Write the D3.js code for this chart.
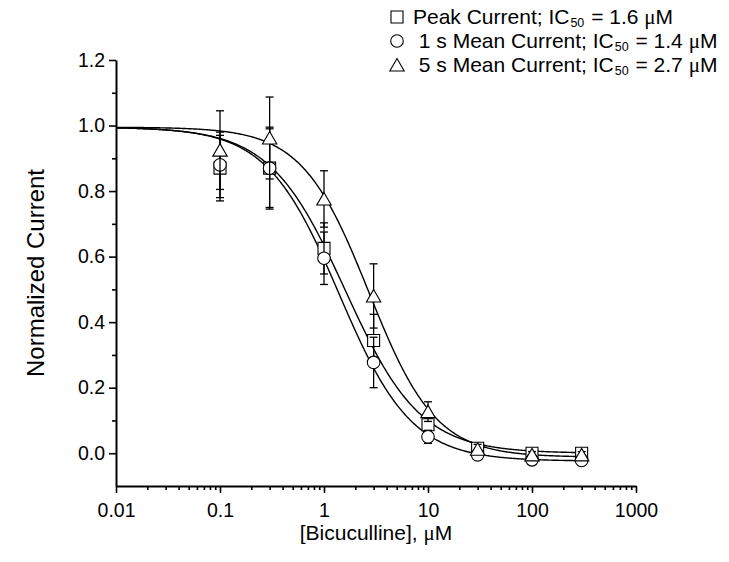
<!DOCTYPE html>
<html>
<head>
<meta charset="utf-8">
<script src="https://cdn.jsdelivr.net/npm/d3@7"></script>
<style>
  body { margin: 0; background: #fff; }
  svg { display: block; }
  text { font-family: "Liberation Sans", Arial, sans-serif; fill: #000; }
</style>
</head>
<body>
<svg id="chart" width="729" height="562"></svg>
<script>
// ---- data ----
const concentrations = [0.1, 0.3, 1, 3, 10, 30, 100, 300];

const peakMean  = [0.87, 0.87, 0.625, 0.344, 0.087, 0.015, 0.0, 0.0];
const peakErr   = [0.10, 0.125, 0.078, 0.08, 0.02, 0.012, 0.01, 0.01];

const oneSMean  = [0.88, 0.87, 0.595, 0.277, 0.05, -0.005, -0.02, -0.022];
const oneSErr   = [0.10, 0.12, 0.08, 0.077, 0.02, 0.012, 0.01, 0.01];

const fiveSMean = [0.925, 0.962, 0.776, 0.48, 0.127, 0.012, -0.005, -0.005];
const fiveSErr  = [0.12, 0.125, 0.086, 0.098, 0.03, 0.015, 0.01, 0.01];

// Hill-fit parameters per series (peak, 1 s, 5 s)
const fitTop    = [0.995, 0.995, 0.995];
const fitBottom = [0.0, -0.024, -0.012];
const fitIC50   = [1.6, 1.4, 2.7];
const fitHill   = [1.2, 1.25, 1.35];

const seriesNames = ["Peak Current; IC", " 1 s Mean Current; IC", " 5 s Mean Current; IC"];
const ic50Labels  = ["1.6", "1.4", "2.7"];
const seriesShapes = ["square", "circle", "triangle"];

const xTickValues = [0.01, 0.1, 1, 10, 100, 1000];
const xTickLabels = ["0.01", "0.1", "1", "10", "100", "1000"];
const yTickValues = [0.0, 0.2, 0.4, 0.6, 0.8, 1.0, 1.2];

// ---- layout ----
const svg = d3.select("#chart");
const pLeft = 116, pRight = 636, pTop = 60, pBottom = 486;

const x = d3.scaleLog().domain([0.01, 1000]).range([pLeft, pRight]);
const y = d3.scaleLinear().domain([-0.1, 1.2]).range([pBottom, pTop]);

// minor ticks
const xMinor = [];
for (let p = -2; p < 3; p++) for (let k = 2; k <= 9; k++) xMinor.push(k * Math.pow(10, p));
const yMinor = [0.1, 0.3, 0.5, 0.7, 0.9, 1.1];

function styleAxis(g) {
  g.select(".domain").attr("stroke", "#000").attr("stroke-width", 2);
  g.selectAll(".tick line").attr("stroke", "#000").attr("stroke-width", 1.6);
}

// x axis
svg.append("g").attr("transform", `translate(0,${pBottom})`)
  .call(d3.axisBottom(x).tickValues(xMinor).tickSize(4).tickFormat("").tickSizeOuter(0))
  .call(styleAxis).select(".domain").remove();
const gx = svg.append("g").attr("transform", `translate(0,${pBottom})`)
  .call(d3.axisBottom(x).tickValues(xTickValues).tickSize(7).tickSizeOuter(0)
    .tickFormat((d, i) => xTickLabels[i]))
  .call(styleAxis);
gx.selectAll(".tick text").attr("font-size", 19.5).attr("dy", "1.1em").attr("font-family", "Liberation Sans, Arial, sans-serif");

// y axis
svg.append("g").attr("transform", `translate(${pLeft},0)`)
  .call(d3.axisLeft(y).tickValues(yMinor).tickSize(4).tickFormat("").tickSizeOuter(0))
  .call(styleAxis).select(".domain").remove();
const gy = svg.append("g").attr("transform", `translate(${pLeft},0)`)
  .call(d3.axisLeft(y).tickValues(yTickValues).tickSize(7).tickSizeOuter(0)
    .tickFormat(d3.format(".1f")))
  .call(styleAxis);
gy.selectAll(".tick text").attr("font-size", 19.5).attr("x", -11).attr("font-family", "Liberation Sans, Arial, sans-serif");

// axis titles
svg.append("text")
  .attr("transform", `translate(44,${(pTop + pBottom) / 2}) rotate(-90)`)
  .attr("text-anchor", "middle").attr("font-size", 24)
  .text("Normalized Current");

const xt = svg.append("text")
  .attr("x", x(1) + 52).attr("y", 540)
  .attr("text-anchor", "middle").attr("font-size", 21);
xt.append("tspan").text("[Bicuculline], ");
xt.append("tspan").attr("font-family", "Liberation Serif, serif").text("μ");
xt.append("tspan").text("M");

// ---- fit curves ----
const curveXs = d3.range(-2, Math.log10(300) + 1e-9, 0.01).map(e => Math.pow(10, e));
const line = d3.line().x(d => x(d[0])).y(d => y(d[1]));
for (let s = 0; s < 3; s++) {
  const pts = curveXs.map(c => [c, fitBottom[s] + (fitTop[s] - fitBottom[s]) / (1 + Math.pow(c / fitIC50[s], fitHill[s]))]);
  svg.append("path").attr("d", line(pts))
    .attr("fill", "none").attr("stroke", "#000").attr("stroke-width", 1.4);
}

// ---- markers ----
function shapePath(shape) {
  if (shape === "square") return "M-6,-6H6V6H-6Z";
  if (shape === "circle") return "M6.3,0A6.3,6.3 0 1,1 -6.3,0A6.3,6.3 0 1,1 6.3,0Z";
  return "M0,-6.5L7.2,6L-7.2,6Z";
}

const means = [peakMean, oneSMean, fiveSMean];
const errs = [peakErr, oneSErr, fiveSErr];
const cap = 4;

for (let s = 0; s < 3; s++) {
  const g = svg.append("g");
  concentrations.forEach((c, i) => {
    const cx = x(c), m = means[s][i], e = errs[s][i];
    const y1 = y(m + e), y2 = y(m - e);
    g.append("line").attr("x1", cx).attr("x2", cx).attr("y1", y1).attr("y2", y2)
      .attr("stroke", "#000").attr("stroke-width", 1.3);
    g.append("line").attr("x1", cx - cap).attr("x2", cx + cap).attr("y1", y1).attr("y2", y1)
      .attr("stroke", "#000").attr("stroke-width", 1.3);
    g.append("line").attr("x1", cx - cap).attr("x2", cx + cap).attr("y1", y2).attr("y2", y2)
      .attr("stroke", "#000").attr("stroke-width", 1.3);
  });
  g.selectAll("path.m").data(concentrations).join("path")
    .attr("class", "m")
    .attr("transform", (c, i) => `translate(${x(c)},${y(means[s][i])})`)
    .attr("d", shapePath(seriesShapes[s]))
    .attr("fill", "#fff").attr("stroke", "#000").attr("stroke-width", 1.1);
}

// ---- legend ----
const legendY = [17, 41, 65];
for (let s = 0; s < 3; s++) {
  svg.append("path")
    .attr("transform", `translate(397,${legendY[s]})`)
    .attr("d", shapePath(seriesShapes[s]))
    .attr("fill", "#fff").attr("stroke", "#000").attr("stroke-width", 1.1);
  const t = svg.append("text").attr("x", 413).attr("y", legendY[s] + 7)
    .attr("font-size", 21).style("white-space", "pre");
  t.append("tspan").text(seriesNames[s]);
  t.append("tspan").attr("font-size", 12.5).attr("dy", 3).attr("dx", 1).text("50");
  t.append("tspan").attr("dy", -3).attr("dx", 1).text(" = " + ic50Labels[s] + " ");
  t.append("tspan").attr("font-family", "Liberation Serif, serif").text("μ");
  t.append("tspan").text("M");
}
</script>
</body>
</html>
